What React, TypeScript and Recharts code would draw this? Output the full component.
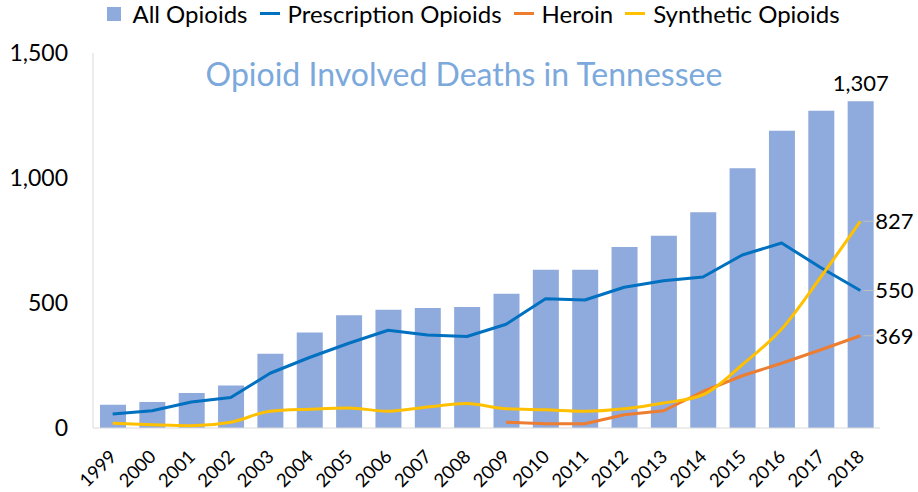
import React from 'react'
import {
  ComposedChart, Bar, Line, XAxis, YAxis, LabelList
} from 'recharts'

const years = [
  '1999', '2000', '2001', '2002', '2003', '2004', '2005', '2006', '2007', '2008',
  '2009', '2010', '2011', '2012', '2013', '2014', '2015', '2016', '2017', '2018',
]
const allOpioids = [93, 104, 140, 170, 297, 382, 451, 473, 480, 484, 537, 633, 633, 724, 769, 863, 1039, 1189, 1269, 1307]
const prescription = [56, 69, 104, 122, 219, 282, 339, 391, 372, 366, 415, 517, 512, 563, 589, 604, 692, 740, 641, 550]
const heroin = [null, null, null, null, null, null, null, null, null, null, 23, 17, 17, 53, 69, 146, 209, 259, 313, 369]
const synthetic = [19, 13, 9, 23, 67, 75, 80, 67, 84, 98, 77, 73, 67, 77, 100, 133, 253, 396, 605, 827]
const yTicks = [0, 500, 1000, 1500]

const COLORS = {
  all: '#8FAADC',
  prescription: '#0070C0',
  heroin: '#ED7D31',
  synthetic: '#FFC000',
  title: '#7BA9DC',
  axis: '#D9D9D9',
}

const data = years.map((year, i) => ({
  year,
  all: allOpioids[i],
  prescription: prescription[i],
  heroin: heroin[i],
  synthetic: synthetic[i],
}))

const last = years.length - 1
const fmt = (v: number) => v.toLocaleString('en-US')

// x labels rotated like Excel
const YearTick = (props: any) => {
  const { x, payload } = props
  const ax = x + 5
  const ay = 458
  return (
    <text x={ax} y={ay} textAnchor="end" fontSize={18.5} fill="#000" fontFamily="Lato"
      transform={`rotate(-45 ${ax} ${ay})`}>
      {payload.value}
    </text>
  )
}

// value labels only at the final year
const barEndLabel = (props: any) => {
  const { x, y, width, index, value } = props
  if (index !== last) return null
  return (
    <text x={x + width / 2} y={y - 10} textAnchor="middle" fontSize={22} fill="#000" fontFamily="Lato">
      {fmt(value)}
    </text>
  )
}

const lineEndLabel = (props: any) => {
  const { x, y, index, value } = props
  if (index !== last) return null
  return (
    <g>
      <line x1={x + 3} y1={y} x2={x + 14} y2={y} stroke="#BFBFBF" strokeWidth={1} />
      <text x={x + 15} y={y} dy="0.36em" fontSize={22} fill="#000" fontFamily="Lato">
        {fmt(value)}
      </text>
    </g>
  )
}

const legendItems = [
  { label: 'All Opioids', color: COLORS.all, kind: 'square' },
  { label: 'Prescription Opioids', color: COLORS.prescription, kind: 'line' },
  { label: 'Heroin', color: COLORS.heroin, kind: 'line' },
  { label: 'Synthetic Opioids', color: COLORS.synthetic, kind: 'line' },
]

export default function App() {
  return (
    <div style={{ position: 'absolute', left: 0, top: 0, width: 918, height: 492, background: '#fff', fontFamily: 'Lato' }}>
      <div style={{
        position: 'absolute', top: 0, left: 0, width: 947, height: 27, display: 'flex', gap: 12,
        justifyContent: 'center', alignItems: 'center', fontSize: 24, color: '#000',
      }}>
        {legendItems.map((it) => (
          <div key={it.label} style={{ display: 'flex', alignItems: 'center' }}>
            {it.kind === 'square'
              ? <span style={{ display: 'inline-block', width: 14, height: 14, background: it.color, marginRight: 11 }} />
              : <span style={{ display: 'inline-block', width: 20, height: 3, background: it.color, marginRight: 8 }} />}
            <span>{it.label}</span>
          </div>
        ))}
      </div>
      <div style={{
        position: 'absolute', top: 55, left: 0, width: 928, textAlign: 'center',
        fontSize: 32, color: COLORS.title, lineHeight: '38px',
      }}>
        Opioid Involved Deaths in Tennessee
      </div>
      <ComposedChart width={918} height={492} data={data}
        margin={{ top: 53, right: 38, bottom: 0, left: 0 }} barSize={26}>
        <XAxis dataKey="year" height={64} tickLine={false} axisLine={{ stroke: COLORS.axis }}
          interval={0} tick={<YearTick />} />
        <YAxis width={93} domain={[0, 1500]} ticks={yTicks} tickLine={false} tickSize={0} tickMargin={25}
          axisLine={{ stroke: COLORS.axis }} tickFormatter={fmt}
          tick={{ fontSize: 23, fill: '#000', fontFamily: 'Lato' }} />
        <Bar dataKey="all" fill={COLORS.all} isAnimationActive={false}>
          <LabelList dataKey="all" content={barEndLabel} />
        </Bar>
        <Line type="linear" dataKey="prescription" stroke={COLORS.prescription} strokeWidth={3}
          dot={false} isAnimationActive={false} strokeLinejoin="round">
          <LabelList dataKey="prescription" content={lineEndLabel} />
        </Line>
        <Line type="linear" dataKey="heroin" stroke={COLORS.heroin} strokeWidth={3}
          dot={false} isAnimationActive={false} connectNulls={false} strokeLinejoin="round">
          <LabelList dataKey="heroin" content={lineEndLabel} />
        </Line>
        <Line type="monotone" dataKey="synthetic" stroke={COLORS.synthetic} strokeWidth={3}
          dot={false} isAnimationActive={false}>
          <LabelList dataKey="synthetic" content={lineEndLabel} />
        </Line>
      </ComposedChart>
    </div>
  )
}
